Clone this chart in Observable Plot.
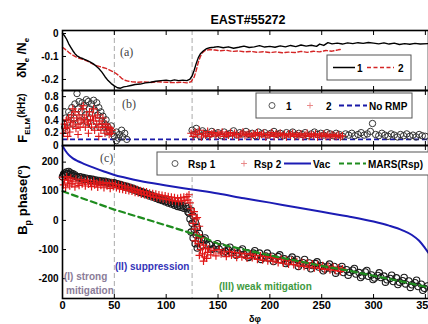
<!DOCTYPE html>
<html><head><meta charset="utf-8">
<script src="https://cdn.jsdelivr.net/npm/d3@7"></script>
<script src="https://cdn.jsdelivr.net/npm/@observablehq/plot@0.6"></script>
<style>
html,body{margin:0;padding:0;background:#fff;overflow:hidden;}
#fig{position:relative;width:428px;height:324px;overflow:hidden;font-family:"Liberation Sans",Arial,sans-serif;}
#fig svg{position:absolute;left:0;}
</style></head><body><div id="fig"></div>
<script>
// ---------- shared ----------
const xDomain = [0, 353];
const xTicks = [0, 50, 100, 150, 200, 250, 300, 350];
const regionEdges = [50, 125];
const title = "EAST#55272";

// ---------- (a) density ----------
const densTicks = [0, -0.1, -0.2];
const densLine1 = [[0,0],[2,-0.01],[4,-0.025],[6,-0.045],[8,-0.06],[10,-0.075],[12,-0.088],[14,-0.097],[17,-0.105],[20,-0.11],[23,-0.116],[26,-0.122],[29,-0.13],[32,-0.14],[35,-0.152],[38,-0.168],[41,-0.188],[44,-0.205],[47,-0.218],[50,-0.228],[53,-0.236],[56,-0.238],[59,-0.232],[62,-0.23],[66,-0.226],[70,-0.222],[75,-0.22],[80,-0.215],[85,-0.212],[90,-0.208],[95,-0.205],[100,-0.203],[104,-0.206],[108,-0.202],[112,-0.205],[116,-0.203],[120,-0.205],[123,-0.198],[125,-0.185],[127,-0.16],[129,-0.13],[131,-0.105],[133,-0.088],[136,-0.075],[139,-0.066],[142,-0.062],[146,-0.06],[150,-0.057],[155,-0.062],[160,-0.058],[165,-0.064],[170,-0.06],[175,-0.055],[180,-0.061],[185,-0.058],[190,-0.053],[195,-0.059],[200,-0.056],[205,-0.06],[210,-0.054],[215,-0.058],[220,-0.052],[225,-0.057],[230,-0.05],[235,-0.055],[240,-0.051],[245,-0.056],[248,-0.046],[252,-0.052],[256,-0.04],[260,-0.045],[265,-0.042],[270,-0.046],[275,-0.041],[280,-0.044],[285,-0.04],[290,-0.043],[295,-0.039],[300,-0.042],[305,-0.045],[310,-0.041],[315,-0.046],[320,-0.042],[325,-0.048],[330,-0.044],[335,-0.047],[340,-0.043],[345,-0.046],[353,-0.044]];
const densLine2 = [[0,-0.06],[3,-0.07],[6,-0.082],[9,-0.092],[12,-0.1],[15,-0.106],[18,-0.11],[21,-0.115],[24,-0.12],[27,-0.128],[30,-0.134],[33,-0.14],[36,-0.144],[39,-0.148],[42,-0.152],[45,-0.158],[48,-0.165],[51,-0.172],[54,-0.182],[57,-0.195],[60,-0.203],[63,-0.207],[67,-0.21],[72,-0.212],[78,-0.211],[85,-0.213],[92,-0.21],[100,-0.212],[108,-0.214],[115,-0.212],[120,-0.215],[124,-0.21],[127,-0.19],[129,-0.16],[131,-0.125],[133,-0.1],[135,-0.083],[138,-0.073],[142,-0.07],[147,-0.072],[152,-0.075],[158,-0.073],[164,-0.078],[170,-0.076],[176,-0.08],[182,-0.078],[188,-0.082],[194,-0.079],[200,-0.083],[206,-0.08],[212,-0.084],[218,-0.081],[224,-0.083],[230,-0.078],[236,-0.082],[242,-0.077],[248,-0.08],[254,-0.074],[260,-0.077],[266,-0.071],[270,-0.068]];

// ---------- (b) ELM frequency ----------
const elmTicks = [0, 0.2, 0.4, 0.6, 0.8];
const noRmp = [0.1];
const elm1 = [[2,0.3],[3,0.45],[5,0.38],[6,0.55],[8,0.5],[9,0.62],[11,0.45],[12,0.68],[14,0.85],[15,0.6],[16,0.72],[18,0.55],[19,0.7],[21,0.65],[22,0.5],[23,0.75],[25,0.72],[26,0.6],[27,0.45],[28,0.68],[30,0.74],[31,0.58],[33,0.7],[34,0.5],[35,0.62],[37,0.55],[38,0.4],[39,0.48],[41,0.35],[42,0.42],[44,0.3],[45,0.25],[47,0.32],[48,0.2],[4,0.25],[10,0.35],[17,0.4],[24,0.38],[29,0.32],[36,0.3],[43,0.22],
[50,0.15],[52,0.22],[54,0.12],[55,0.18],[57,0.25],[58,0.14],[60,0.2],[62,0.1],[52,0.08],
[125,0.25],[127,0.18],[129,0.28],[131,0.22],[133,0.15],[135,0.24],[138,0.2],[141,0.17],[144,0.23],[147,0.19],[150,0.21],[153,0.16],[156,0.22],[159,0.18],[162,0.2],[165,0.24],[168,0.17],[171,0.21],[174,0.19],[177,0.23],[180,0.18],[183,0.2],[186,0.16],[189,0.22],[192,0.19],[195,0.21],[198,0.17],[201,0.2],[204,0.23],[207,0.18],[210,0.2],[213,0.16],[216,0.21],[219,0.19],[222,0.22],[225,0.17],[228,0.2],[231,0.18],[234,0.21],[237,0.16],[240,0.19],[243,0.22],[246,0.18],[249,0.2],[252,0.17],[255,0.21],[258,0.19],[261,0.16],[264,0.2],[267,0.18],[270,0.15],[273,0.19],[276,0.17],[279,0.2],[282,0.16],[285,0.18],[288,0.21],[291,0.17],[294,0.19],[297,0.23],[299,0.36],[302,0.18],[305,0.16],[308,0.2],[311,0.17],[314,0.15],[317,0.19],[320,0.17],[323,0.14],[326,0.18],[329,0.16],[332,0.19],[335,0.15],[338,0.17],[341,0.14],[344,0.18],[347,0.16],[350,0.15]];
const elm2 = [[1,0.2],[2,0.35],[3,0.28],[4,0.42],[5,0.3],[6,0.45],[7,0.22],[8,0.38],[9,0.5],[10,0.32],[11,0.4],[12,0.55],[13,0.28],[14,0.45],[15,0.35],[16,0.5],[17,0.3],[18,0.42],[19,0.6],[20,0.38],[21,0.45],[22,0.3],[23,0.5],[24,0.4],[25,0.35],[26,0.55],[27,0.42],[28,0.3],[29,0.48],[30,0.4],[31,0.25],[32,0.45],[33,0.35],[34,0.5],[35,0.3],[36,0.4],[37,0.25],[38,0.35],[39,0.45],[40,0.3],[41,0.2],[42,0.35],[43,0.25],[44,0.3],[45,0.18],[46,0.28],[47,0.2],[48,0.25],[5,0.15],[15,0.18],[25,0.2],[35,0.15],[20,0.65],[30,0.6],[10,0.6],
[124,0.2],[126,0.15],[128,0.22],[130,0.18],[132,0.25],[134,0.14],[136,0.2],[138,0.17],[140,0.23],[142,0.15],[144,0.19],[146,0.21],[148,0.16],[150,0.2],[152,0.18],[154,0.22],[156,0.15],[158,0.19],[160,0.17],[162,0.21],[164,0.16],[166,0.2],[168,0.18],[170,0.14],[172,0.19],[174,0.22],[176,0.16],[178,0.18],[180,0.2],[182,0.15],[184,0.19],[186,0.17],[188,0.21],[190,0.16],[192,0.18],[194,0.2],[196,0.14],[198,0.18],[200,0.17],[202,0.21],[204,0.15],[206,0.19],[208,0.17],[210,0.2],[212,0.16],[214,0.18],[216,0.14],[218,0.19],[220,0.17],[222,0.2],[224,0.15],[226,0.18],[228,0.16],[230,0.19],[232,0.14],[234,0.17],[236,0.2],[238,0.15],[240,0.18],[242,0.16],[244,0.19],[246,0.14],[248,0.17],[250,0.16],[252,0.19],[254,0.15],[256,0.17],[258,0.14],[260,0.18],[262,0.16],[264,0.15],[266,0.17],[268,0.14],[270,0.16]];

// ---------- (c) Bp phase ----------
const phaseTicks = [-200, -100, 0, 100, 200];
const rsp1 = [[0,150],[1,158],[2,162],[3,155],[4,166],[5,160],[6,168],[7,158],[8,163],[9,155],[10,160],[11,152],[12,156],[14,150],[15,146],[17,150],[18,144],[20,147],[21,141],[23,145],[24,140],[26,143],[27,138],[29,141],[30,136],[32,139],[33,134],[35,137],[36,132],[38,135],[39,131],[41,134],[42,129],[44,132],[45,127],[47,130],[48,126],[50,129],[51,124],[53,126],[54,121],[56,123],[57,118],[59,120],[60,115],[62,117],[63,112],[65,114],[66,108],[68,110],[69,104],[71,106],[72,100],[74,102],[75,96],[77,98],[78,92],[80,94],[81,88],[83,90],[84,84],[86,86],[87,80],[89,82],[90,76],[92,78],[93,72],[95,74],[96,68],[98,70],[99,64],[101,66],[102,60],[104,62],[105,56],[107,58],[108,52],[110,55],[111,48],[113,52],[114,45],[116,50],[117,42],[119,48],[120,40],[121,30],
[122,25],[123,5],[124,35],[125,-10],[126,15],[127,-30],[128,-5],[129,-50],[130,-25],[131,-70],[132,-45],[133,-90],[134,-65],[135,-85],[126,-60],[128,-80],[130,-95],[124,-40],
[136,-66],[139,-84],[142,-83],[145,-97],[148,-88],[151,-98],[154,-91],[157,-106],[160,-102],[163,-111],[166,-103],[169,-112],[172,-104],[175,-116],[178,-111],[181,-122],[184,-112],[187,-121],[190,-112],[193,-127],[196,-122],[199,-131],[202,-123],[205,-132],[208,-124],[211,-136],[214,-132],[217,-143],[220,-133],[223,-142],[226,-134],[229,-149],[232,-145],[235,-154],[238,-146],[241,-155],[244,-148],[247,-160],[250,-156],[253,-167],[256,-157],[259,-166],[262,-158],[265,-173],[268,-168],[271,-179],[274,-169],[277,-178],[280,-171],[283,-184],[286,-179],[289,-190],[292,-177],[295,-192],[298,-187],[301,-198],[304,-189],[307,-196],[310,-191],[313,-204],[316,-199],[319,-210],[322,-197],[325,-212],[328,-207],[331,-218],[334,-208],[337,-221],[340,-214],[343,-227],[346,-219],[349,-233],[352,-225],
[137.5,-60],[143.5,-100],[149.5,-80],[155.5,-112],[161.5,-92],[167.5,-120],[173.5,-98],[179.5,-127],[185.5,-104],[191.5,-134],[197.5,-112],[203.5,-141],[209.5,-118],[215.5,-148],[221.5,-126],[227.5,-158],[233.5,-134],[239.5,-166],[245.5,-142],[251.5,-173],[257.5,-150],[263.5,-181],[269.5,-158],[275.5,-188],[281.5,-165],[287.5,-196],[293.5,-172],[299.5,-203],[305.5,-180],[311.5,-212],[317.5,-188],[323.5,-220],[329.5,-196],[335.5,-230],[341.5,-205],[347.5,-240]];
const rsp2 = [[0,148],[1,122],[2,140],[3,112],[4,150],[5,128],[6,138],[7,118],[8,145],[9,125],[10,135],[12,115],[13,142],[15,128],[16,120],[18,140],[19,125],[21,134],[22,118],[24,138],[25,124],[27,130],[28,116],[30,136],[31,122],[33,128],[34,114],[36,132],[37,120],[39,127],[40,112],[42,130],[43,118],[45,126],[46,110],[48,128],[49,116],[51,124],[52,112],[54,122],[55,108],[57,120],[58,106],[60,118],[61,104],[63,114],[64,102],[66,112],[67,100],[69,108],[70,96],[72,106],[73,94],[75,102],[76,90],[78,100],[79,88],[81,98],[82,86],[84,94],[85,82],[87,92],[88,80],[90,90],[91,78],[93,88],[94,76],[96,86],[97,74],[99,84],[100,72],[102,82],[103,70],[105,80],[106,68],[108,78],[109,66],[111,76],[112,64],[114,78],[115,66],[117,80],[118,68],[120,82],[121,70],[122,88],
[123,60],[124,40],[125,20],[126,-10],[127,30],[128,-30],[129,5],[130,-50],[131,-80],[132,-20],[133,-100],[134,-60],[135,-115],[136,-85],[137,-125],[138,-95],[139,-130],[140,-110],[128,-70],[132,-120],[136,-140],[130,10],
[141,-98],[143,-118],[146,-103],[148,-122],[151,-100],[153,-115],[156,-108],[158,-124],[161,-106],[163,-119],[166,-110],[168,-127],[171,-112],[173,-125],[176,-114],[178,-130],[181,-116],[183,-128],[186,-120],[188,-134],[191,-122],[193,-136],[196,-124],[198,-139],[201,-127],[203,-140],[206,-130],[208,-145],[211,-133],[213,-147],[216,-136],[218,-150],[221,-138],[223,-152],[226,-141],[228,-156],[231,-144],[233,-158],[236,-146],[238,-160],[241,-149],[243,-163],[246,-152],[248,-165],[251,-155],[253,-168],[256,-158],[258,-170],[261,-160],[263,-172],[266,-163],[268,-175],[270,-166]];
const vac = [[0,255],[3,238],[6,225],[10,213],[15,203],[20,195],[30,181],[40,168],[50,156],[60,147],[75,135],[100,120],[125,106],[150,92],[175,76],[200,61],[225,45],[250,30],[275,14],[300,-4],[315,-18],[328,-34],[337,-50],[344,-70],[349,-92],[353,-112]];
const mars = [[0,100],[50,37],[100,-17],[125,-45],[140,-65],[150,-80],[175,-100],[200,-120],[225,-138],[250,-156],[275,-172],[300,-190],[325,-208],[353,-230]];

// ---------- helpers ----------
const fig = document.getElementById("fig");
const X = d => d[0], Y = d => d[1];
const fmt = d => (d < 0 ? "-" : "") + String(Math.abs(d));
const baseStyle = {background: "transparent", overflow: "visible", fontFamily: "Liberation Sans, Arial, sans-serif", fontWeight: "bold", fontSize: "10px", color: "#000"};

function xAxes(labels) {
  return [
    Plot.axisX({anchor: "top", ticks: xTicks, tickSize: -4, tickFormat: () => "", label: null}),
    Plot.axisX({anchor: "bottom", ticks: xTicks, tickSize: -4, tickPadding: 7, fontSize: 11, tickFormat: labels ? (d => String(d)) : () => "", label: null})
  ];
}
function yAxis(ticks) {
  return Plot.axisY({anchor: "left", ticks, tickSize: -4, tickPadding: 8, tickFormat: fmt, label: null});
}
function place(svg, top) { svg.style.top = top + "px"; fig.appendChild(svg); }

const common = {width: 428, marginLeft: 62, marginRight: 0, style: baseStyle};

// panel a
const pa = Plot.plot({...common, height: 90, marginTop: 30, marginBottom: 0,
  x: {domain: xDomain}, y: {domain: [-0.248, 0.013]},
  marks: [
    Plot.ruleX(regionEdges, {stroke: "#aaa", strokeDasharray: "5,3"}),
    Plot.line(densLine2, {x: X, y: Y, stroke: "#d42525", strokeWidth: 1.4, strokeDasharray: "4,2.5"}),
    Plot.line(densLine1, {x: X, y: Y, stroke: "#000", strokeWidth: 1.4}),
    ...xAxes(false), yAxis(densTicks),
    Plot.frame({stroke: "#000", strokeWidth: 1.6})
  ]});
place(pa, 0);

// panel b
const pb = Plot.plot({...common, height: 55, marginTop: 0, marginBottom: 0,
  x: {domain: xDomain}, y: {domain: [0, 0.9]},
  marks: [
    Plot.ruleX(regionEdges, {stroke: "#aaa", strokeDasharray: "5,3"}),
    Plot.ruleY(noRmp, {stroke: "#1a1aa8", strokeWidth: 1.8, strokeDasharray: "5,3"}),
    Plot.dot(elm1, {x: X, y: Y, r: 3.2, stroke: "#333", strokeWidth: 1, fill: "none"}),
    Plot.dot(elm2, {x: X, y: Y, symbol: "plus", r: 2.6, stroke: "#e01818", strokeWidth: 1.1}),
    ...xAxes(false), yAxis(elmTicks),
    Plot.frame({stroke: "#000", strokeWidth: 1.6})
  ]});
place(pb, 90);

// panel c
const pc = Plot.plot({...common, height: 179, marginTop: 0, marginBottom: 26,
  x: {domain: xDomain}, y: {domain: [-268, 257]},
  marks: [
    Plot.ruleX(regionEdges, {stroke: "#aaa", strokeDasharray: "5,3"}),
    Plot.dot(rsp1, {x: X, y: Y, r: 3.2, stroke: "#1a1a1a", strokeWidth: 1.1, fill: "none"}),
    Plot.dot(rsp2, {x: X, y: Y, symbol: "plus", r: 2.6, stroke: "#e01818", strokeWidth: 1.2}),
    Plot.line(mars, {x: X, y: Y, stroke: "#1e8c1e", strokeWidth: 2.2, strokeDasharray: "6,4"}),
    Plot.line(vac, {x: X, y: Y, stroke: "#1c1cb4", strokeWidth: 2, curve: "monotone-x"}),
    ...xAxes(true), yAxis(phaseTicks),
    Plot.frame({stroke: "#000", strokeWidth: 1.6})
  ]});
place(pc, 145);

// ---------- overlay: title, labels, legends ----------
const ov = d3.select(fig).append("svg").attr("width", 428).attr("height", 324)
  .style("top", "0px").style("font-family", "Liberation Sans, Arial, sans-serif").style("font-weight", "bold");

ov.append("text").attr("x", 248).attr("y", 24).attr("text-anchor", "middle").attr("font-size", 12.5).text(title);

// panel tags
[["(a)", 120, 56], ["(b)", 122, 108], ["(c)", 100, 162]].forEach(([t, x, y]) =>
  ov.append("text").attr("x", x).attr("y", y).attr("font-family", "Liberation Serif, Times New Roman, serif")
    .attr("font-weight", "normal").attr("font-size", 12).attr("fill", "#444").text(t));

// region annotations
ov.append("text").attr("x", 64).attr("y", 280).attr("font-size", 10).attr("fill", "#8a7c98").text("(I) strong");
ov.append("text").attr("x", 66).attr("y", 294).attr("font-size", 10).attr("fill", "#8a7c98").text("mitigation");
ov.append("text").attr("x", 115).attr("y", 270).attr("font-size", 10).attr("fill", "#3434b8").text("(II) suppression");
ov.append("text").attr("x", 219).attr("y", 290).attr("font-size", 10).attr("fill", "#3f9a3f").text("(III) weak mitigation");

// y labels
function ylab(cx, cy, parts) {
  const t = ov.append("text").attr("transform", `translate(${cx},${cy}) rotate(-90)`).attr("text-anchor", "middle");
  parts.forEach(([s, size, dy]) => t.append("tspan").attr("font-size", size).attr("dy", dy).text(s));
}
ylab(26, 58, [["δN", 12, 0], ["e", 8, 3], [" /N", 12, -3], ["e", 8, 3]]);
ylab(27, 118, [["F", 13, 0], ["ELM", 8, 3], ["(kHz)", 10, -5]]);
ylab(27, 200, [["B", 13, 0], ["p", 9, 4], [" phase(", 13, -4], ["o", 8, -5], [")", 13, 5]]);

// x label (at the lower edge of the picture)
ov.append("text").attr("x", 249).attr("y", 322).attr("font-size", 9).text("δφ");

// legends
function box(x, y, w, h) { ov.append("rect").attr("x", x).attr("y", y).attr("width", w).attr("height", h).attr("fill", "#fff").attr("stroke", "#555").attr("stroke-width", 1); }
function seg(x1, x2, y, color, dash, sw) { ov.append("line").attr("x1", x1).attr("x2", x2).attr("y1", y).attr("y2", y).attr("stroke", color).attr("stroke-width", sw).attr("stroke-dasharray", dash); }
function txt(x, y, s) { ov.append("text").attr("x", x).attr("y", y).attr("font-size", 10).text(s); }
function circ(x, y) { ov.append("circle").attr("cx", x).attr("cy", y).attr("r", 3).attr("fill", "none").attr("stroke", "#444").attr("stroke-width", 0.9); }
function plus(x, y, c) { ov.append("path").attr("d", `M${x-3},${y}H${x+3}M${x},${y-3}V${y+3}`).attr("stroke", c).attr("stroke-width", 0.9); }

box(327, 55, 84, 25);
seg(333, 355, 67.5, "#000", null, 1.5); txt(357, 71.5, "1");
seg(367, 394, 67.5, "#d42525", "4,2.5", 1.5); txt(398, 71.5, "2");

box(256, 93, 156, 25);
circ(272, 105.5); txt(286, 109.5, "1");
plus(310, 105.5, "#e88080"); txt(326, 109.5, "2");
seg(339, 367, 105.5, "#1a1aa8", "5,3", 1.8); txt(369, 109.5, "No RMP");

box(157, 152, 272, 23);
circ(175, 163.5); txt(188, 167.5, "Rsp 1");
plus(244, 163.5, "#e88080"); txt(254, 167.5, "Rsp 2");
seg(284, 311, 163.5, "#1c1cb4", null, 2); txt(313, 167.5, "Vac");
seg(339, 366, 163.5, "#1e8c1e", "5,3", 2); txt(368, 167.5, "MARS(Rsp)");
</script></body></html>
